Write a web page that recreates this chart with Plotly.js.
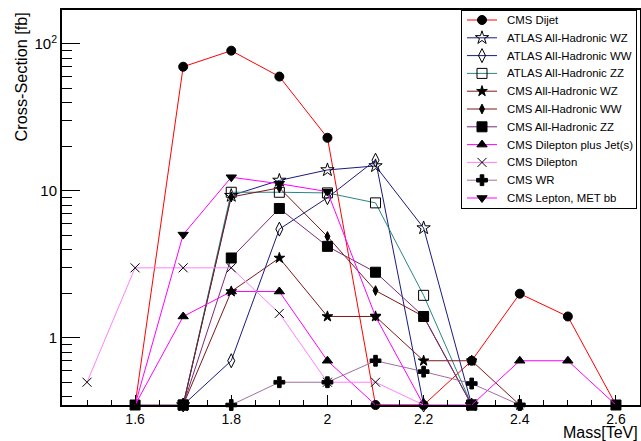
<!DOCTYPE html>
<html>
<head>
<meta charset="utf-8">
<script src="https://cdn.plot.ly/plotly-3.0.1.min.js"></script>
<style>html,body{margin:0;padding:0;background:#fff;}#chart{width:641px;height:441px;}</style>
</head>
<body>
<div id="chart"></div>
<script>
// ---- data (0 = no signal, drawn on the axis floor) ----
const dijetX = [1.6, 1.7, 1.8, 1.9, 2.0, 2.1, 2.2, 2.3, 2.4, 2.5, 2.6];
const dijetY = [0, 70, 90, 60, 23, 0, 0, 0.7, 2.0, 1.4, 0];

const atlasWZX = [1.7, 1.8, 1.9, 2.0, 2.1, 2.2, 2.3];
const atlasWZY = [0, 9.3, 11.8, 13.9, 14.8, 5.6, 0];

const atlasWWX = [1.7, 1.8, 1.9, 2.0, 2.1, 2.2];
const atlasWWY = [0, 0.7, 5.5, 9.0, 16.2, 0];

const atlasZZX = [1.7, 1.8, 1.9, 2.0, 2.1, 2.2, 2.3];
const atlasZZY = [0, 9.8, 9.8, 9.7, 8.3, 1.95, 0];

const cmsWZX = [1.7, 1.8, 1.9, 2.0, 2.1, 2.2, 2.3, 2.4];
const cmsWZY = [0, 2.07, 3.5, 1.4, 1.4, 0.7, 0.7, 0];

const cmsWWX = [1.7, 1.8, 1.9, 2.0, 2.1, 2.2, 2.3];
const cmsWWY = [0, 9.1, 10.5, 4.9, 2.1, 1.4, 0];

const cmsZZX = [1.6, 1.7, 1.8, 1.9, 2.0, 2.1, 2.2, 2.3, 2.4, 2.5, 2.6];
const cmsZZY = [0, 0, 3.5, 7.6, 4.2, 2.8, 1.4, 0, null, null, 0];

const dilepJetsX = [1.6, 1.7, 1.8, 1.9, 2.0, 2.1, 2.2, 2.3, 2.4, 2.5, 2.6];
const dilepJetsY = [0, 1.4, 2.07, 2.07, 0.7, 0, 0, 0, 0.7, 0.7, 0];

const dilepX = [1.5, 1.6, 1.7, 1.8, 1.9, 2.0, 2.1, 2.2];
const dilepY = [0.5, 3.0, 3.0, 3.0, 1.47, 0.5, 0.5, 0];

const wrX = [1.8, 1.9, 2.0, 2.1, 2.2, 2.3, 2.4];
const wrY = [0, 0.5, 0.5, 0.7, 0.59, 0.49, 0];

const lepMetX = [1.6, 1.7, 1.8, 1.9, 2.0, 2.1, 2.2];
const lepMetY = [0, 5.05, 12.4, 11.2, 9.9, 1.4, 0];

const seriesNames = ["CMS Dijet", "ATLAS All-Hadronic WZ", "ATLAS All-Hadronic WW", "ATLAS All-Hadronic ZZ",
  "CMS All-Hadronic WZ", "CMS All-Hadronic WW", "CMS All-Hadronic ZZ", "CMS Dilepton plus Jet(s)",
  "CMS Dilepton", "CMS WR", "CMS Lepton, MET bb"];

const xTickVals = [1.6, 1.8, 2.0, 2.2, 2.4, 2.6];
const xTickText = ["1.6", "1.8", "2", "2.2", "2.4", "2.6"];
const yTickVals = [1, 10, 100];
const yTickText = ["1", "10", "10<sup>2</sup>"];

// ---- styling ----
const LOG_MIN = -0.456, LOG_MAX = 2.231;
const FLOOR = Math.pow(10, LOG_MIN);
const FONT = "Liberation Sans, Arial, sans-serif";

const styles = [
  {color: "#ff0000", symbol: "circle", size: 9, showZero: true},
  {color: "#1a1a80", symbol: "star-open", size: 10, showZero: true},
  {color: "#1a1a80", symbol: "diamond-tall-open", size: 10, showZero: true},
  {color: "#2a8585", symbol: "square-open", size: 10, showZero: true},
  {color: "#7a1a1a", symbol: "star", size: 8, showZero: true},
  {color: "#7a1a1a", symbol: "diamond-tall", size: 7, showZero: true},
  {color: "#7a2a7a", symbol: "square", size: 10, showZero: true},
  {color: "#ff00ff", symbol: "triangle-up", size: 9, showZero: false},
  {color: "#ff80ff", symbol: "x-thin-open", size: 9, showZero: false},
  {color: "#a070a0", symbol: "cross", size: 9, showZero: true},
  {color: "#ff00ff", symbol: "triangle-down", size: 9, showZero: false}
];

const xs = [dijetX, atlasWZX, atlasWWX, atlasZZX, cmsWZX, cmsWWX, cmsZZX, dilepJetsX, dilepX, wrX, lepMetX];
const ys = [dijetY, atlasWZY, atlasWWY, atlasZZY, cmsWZY, cmsWWY, cmsZZY, dilepJetsY, dilepY, wrY, lepMetY];

const traces = xs.map((x, i) => {
  const s = styles[i];
  const y = ys[i].map(v => v === null ? null : (v === 0 ? FLOOR : v));
  const sizes = ys[i].map(v => (v === 0 && !s.showZero) ? 0 : s.size);
  return {
    type: "scatter", mode: "lines+markers", name: seriesNames[i],
    x: x, y: y, cliponaxis: false, connectgaps: false, showlegend: false,
    xaxis: "x", yaxis: "y",
    line: {color: s.color, width: 1},
    marker: {symbol: s.symbol, size: sizes, opacity: 1, color: "#000000", line: {color: "#000000", width: 1}}
  };
});

// ---- legend drawn in its own small subplot (pixel-like units) ----
const LEG_W = 174, LEG_H = 197, ROW0 = 9, ROW_STEP = 17.8;
const annotations = [];
seriesNames.forEach((name, i) => {
  const s = styles[i];
  const r = ROW0 + ROW_STEP * i;
  traces.push({
    type: "scatter", mode: "lines+markers", showlegend: false, hoverinfo: "skip",
    xaxis: "x2", yaxis: "y2", cliponaxis: false,
    x: [5, 20, 35], y: [r, r, r],
    line: {color: s.color, width: 1},
    marker: {symbol: s.symbol, size: [0, s.size, 0], opacity: 1, color: "#000000", line: {color: "#000000", width: 1}}
  });
  annotations.push({text: name, xref: "x2", yref: "y2", x: 43, y: r, xanchor: "left", yanchor: "middle",
    showarrow: false, font: {family: FONT, size: 11.4, color: "#000"}});
});

const PX0 = 62, PW = 578, PY0 = 10, PH = 395;
annotations.push(
  {text: "Mass[TeV]", xref: "paper", yref: "paper", x: 1, y: -(443 - 405) / PH, xanchor: "right", yanchor: "bottom",
   showarrow: false, font: {family: FONT, size: 16}},
  {text: "Cross-Section [fb]", xref: "paper", yref: "paper", x: (20 - PX0) / PW, y: (405 - 11) / PH, xanchor: "center", yanchor: "top",
   textangle: -90, showarrow: false, font: {family: FONT, size: 16.3}}
);

const minorY = [0.4,0.5,0.6,0.7,0.8,0.9,2,3,4,5,6,7,8,9,20,30,40,50,60,70,80,90];

const layout = {
  width: 641, height: 441,
  margin: {l: 62, r: 1, t: 10, b: 36},
  paper_bgcolor: "#ffffff", plot_bgcolor: "#ffffff",
  font: {family: FONT, size: 15, color: "#000000"},
  showlegend: false,
  xaxis: {
    range: [1.448, 2.65], showgrid: false, zeroline: false,
    tickmode: "array", tickvals: xTickVals, ticktext: xTickText,
    ticks: "inside", ticklen: 10, tickwidth: 1, tickcolor: "#000",
    minor: {tickmode: "linear", tick0: 1.6, dtick: 0.05, ticks: "inside", ticklen: 5, tickwidth: 1, tickcolor: "#000", showgrid: false},
    showline: true, mirror: true, linecolor: "#000", linewidth: 2,
    tickfont: {size: 14}
  },
  yaxis: {
    type: "log", range: [LOG_MIN, LOG_MAX], showgrid: false, zeroline: false,
    tickmode: "array", tickvals: yTickVals, ticktext: yTickText,
    ticks: "inside", ticklen: 18, tickwidth: 1, tickcolor: "#000",
    minor: {tickmode: "array", tickvals: minorY, ticks: "inside", ticklen: 10, tickwidth: 1, tickcolor: "#000", showgrid: false},
    showline: true, mirror: true, linecolor: "#000", linewidth: 2,
    tickfont: {size: 15}
  },
  xaxis2: {
    domain: [(462 - PX0) / PW, (636 - PX0) / PW], anchor: "y2", range: [0, LEG_W],
    showgrid: false, zeroline: false, showticklabels: false, ticks: "",
    showline: true, mirror: true, linecolor: "#000", linewidth: 1
  },
  yaxis2: {
    domain: [(405 - 208) / PH, (405 - 11) / PH], anchor: "x2", range: [LEG_H, 0],
    showgrid: false, zeroline: false, showticklabels: false, ticks: "",
    showline: true, mirror: true, linecolor: "#000", linewidth: 1
  },
  annotations: annotations
};

Plotly.newPlot("chart", traces, layout, {staticPlot: true, displayModeBar: false});
</script>
</body>
</html>
